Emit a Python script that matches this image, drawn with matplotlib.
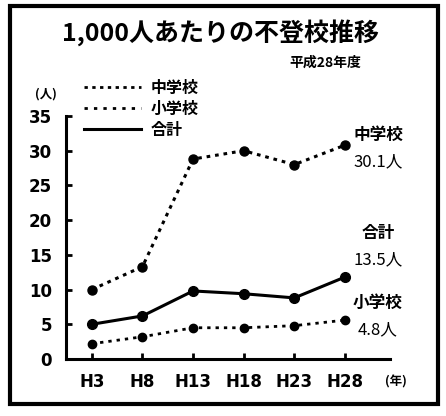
import matplotlib.pyplot as plt
from matplotlib.lines import Line2D
from matplotlib.patches import Rectangle

plt.rcParams['font.family'] = ['Noto Sans CJK JP', 'DejaVu Sans']

years = ['H3', 'H8', 'H13', 'H18', 'H23', 'H28']
junior_high = [10.0, 13.3, 28.8, 30.0, 28.0, 30.8]
elementary = [2.2, 3.2, 4.5, 4.5, 4.8, 5.6]
total = [5.0, 6.2, 9.8, 9.4, 8.8, 11.8]
y_ticks = [0, 5, 10, 15, 20, 25, 30, 35]

W, H = 446, 416
fig = plt.figure(figsize=(W / 100, H / 100), dpi=100)

# axes box: x axis from px 66 to 390, y=0 at px 359, y=35 at px 116
ax = fig.add_axes([66 / W, (H - 359) / H, (390 - 66) / W, (359 - 116) / H])
xs = list(range(len(years)))

ax.plot(xs, junior_high, color='black', linestyle=(0, (1.2, 1.6)), linewidth=2.2,
        marker='o', markersize=6.5)
ax.plot(xs, elementary, color='black', linestyle=(0, (1.2, 1.8)), linewidth=2.0,
        marker='o', markersize=6)
ax.plot(xs, total, color='black', linestyle='-', linewidth=2.2,
        marker='o', markersize=7)

ax.set_xlim(-0.51, 5.89)
ax.set_ylim(0, 35)
ax.set_xticks(xs)
ax.set_xticklabels(years, fontsize=12, fontweight='bold', family=['DejaVu Sans'])
ax.set_yticks(y_ticks)
ax.set_yticklabels([str(v) for v in y_ticks], fontsize=12, fontweight='bold',
                   family=['DejaVu Sans'])
ax.tick_params(axis='x', direction='in', length=4, width=2, pad=10)
ax.tick_params(axis='y', direction='in', length=4, width=2, pad=10)
for side in ['top', 'right']:
    ax.spines[side].set_visible(False)
ax.spines['left'].set_linewidth(2.2)
ax.spines['bottom'].set_linewidth(2.2)
ax.set_facecolor('none')

# labels at right end
fig.text(396 / W, 1 - 382 / H, '(年)', fontsize=9, fontweight='bold',
         ha='center', va='center')
fig.text(378 / W, 1 - 135 / H, '中学校', fontsize=12, fontweight='bold', ha='center', va='center')
fig.text(378 / W, 1 - 162 / H, '30.1人', fontsize=12, ha='center', va='center')
fig.text(378 / W, 1 - 233 / H, '合計', fontsize=12, fontweight='bold', ha='center', va='center')
fig.text(378 / W, 1 - 260 / H, '13.5人', fontsize=12, ha='center', va='center')
fig.text(378 / W, 1 - 303 / H, '小学校', fontsize=12, fontweight='bold', ha='center', va='center')
fig.text(378 / W, 1 - 330 / H, '4.8人', fontsize=12, ha='center', va='center')

# title and notes
fig.text(220 / W, 1 - 33 / H, '1,000人あたりの不登校推移', fontsize=18, fontweight='bold',
         ha='center', va='center')
fig.text(325 / W, 1 - 63 / H, '平成28年度', fontsize=10, fontweight='bold',
         ha='center', va='center')
fig.text(46 / W, 1 - 94 / H, '(人)', fontsize=9, fontweight='bold', ha='center', va='center')

# legend
handles = [
    Line2D([], [], color='black', linestyle=(0, (1.2, 1.6)), linewidth=2.0),
    Line2D([], [], color='black', linestyle=(0, (1.2, 2.2)), linewidth=2.0),
    Line2D([], [], color='black', linestyle='-', linewidth=2.2),
]
fig.legend(handles, ['中学校', '小学校', '合計'], loc='upper left',
           bbox_to_anchor=(76 / W, 1 - 72 / H), frameon=False,
           prop={'size': 11.5, 'weight': 'bold'}, handlelength=3.6,
           handletextpad=0.6, labelspacing=0.3, borderpad=0)

# outer frame
fig.patches.append(Rectangle((10 / W, 1 - 404 / H), 428 / W, 398 / H,
                             transform=fig.transFigure, fill=False,
                             edgecolor='black', linewidth=3))

fig.savefig('out.png', dpi=100)
